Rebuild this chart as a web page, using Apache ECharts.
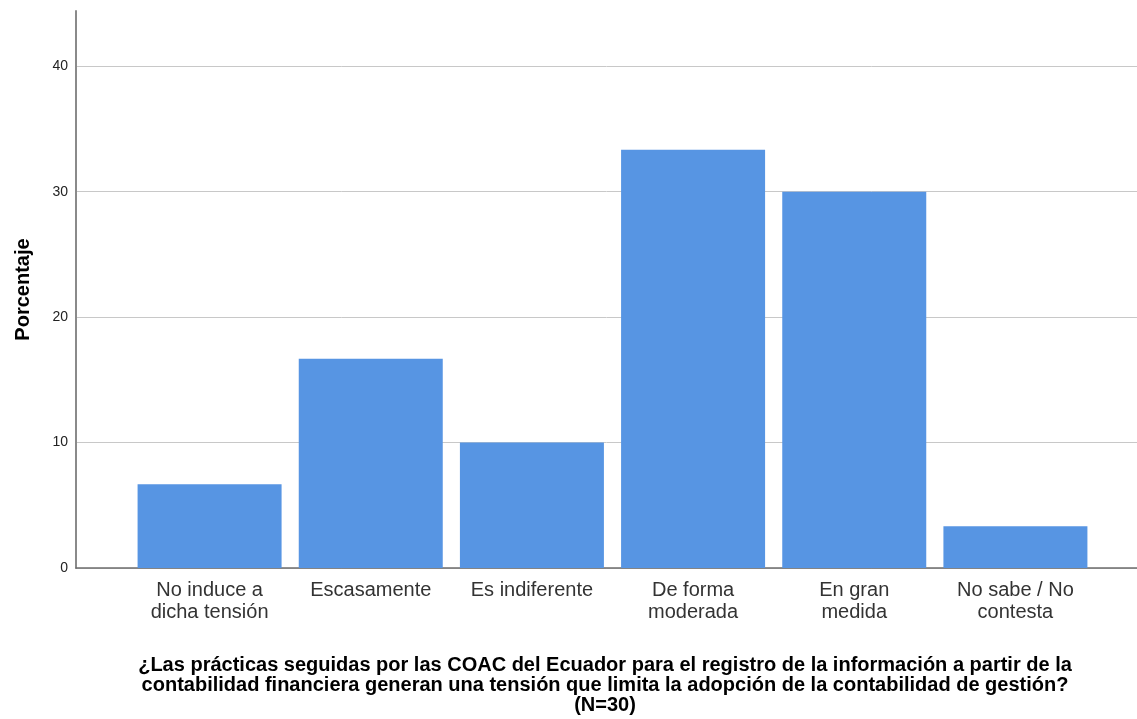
<!DOCTYPE html>
<html lang="es">
<head>
    <meta charset="UTF-8">
    <title>Porcentaje</title>
    <script src="https://cdn.jsdelivr.net/npm/echarts@6/dist/echarts.min.js"></script>
    <style>
        html, body { margin: 0; padding: 0; background: #fff; }
        #chart { width: 1137px; height: 719px; }
    </style>
</head>
<body>
<div id="chart"></div>
<script>
    // datos (N=30)
    var categorias = ['No induce a\ndicha tensión', 'Escasamente', 'Es indiferente', 'De forma\nmoderada', 'En gran\nmedida', 'No sabe / No\ncontesta'];
    var porcentajes = [6.67, 16.67, 10, 33.33, 30, 3.33];
    var yTicks = [0, 10, 20, 30, 40];
    var yMax = 44.4;

    var chart = echarts.init(document.getElementById('chart'));
    var fuente = '"Liberation Sans", Arial, sans-serif';
    var gris = '#c8c8c8';

    chart.setOption({
        animation: false,
        title: {
            text: '¿Las prácticas seguidas por las COAC del Ecuador para el registro de la información a partir de la\ncontabilidad financiera generan una tensión que limita la adopción de la contabilidad de gestión?\n(N=30)',
            left: 600,
            top: 650,
            textAlign: 'center',
            textStyle: { fontFamily: fuente, fontSize: 20, fontWeight: 'bold', color: '#000', lineHeight: 20 }
        },
        grid: [
            // marco completo: eje y, lineas de referencia
            { left: 76, right: 0, top: 11, bottom: 151, outerBoundsMode: 'none', containLabel: false },
            // zona de barras
            { left: 129, right: 41, top: 11, bottom: 151, outerBoundsMode: 'none', containLabel: false }
        ],
        xAxis: [
            {
                gridIndex: 0, type: 'value', min: 0, max: 1,
                axisLine: { show: true, lineStyle: { color: '#6e6e6e', width: 1.5 } },
                axisTick: { show: false }, axisLabel: { show: false }, splitLine: { show: false }
            },
            {
                gridIndex: 1, type: 'category', data: categorias,
                axisLine: { show: false }, axisTick: { show: false },
                axisLabel: { fontFamily: fuente, fontSize: 20, color: '#333', lineHeight: 22, margin: 11, interval: 0 }
            }
        ],
        yAxis: [
            {
                gridIndex: 0, type: 'value', min: 0, max: yMax, interval: 10,
                name: 'Porcentaje', nameLocation: 'middle', nameGap: 43, nameRotate: 90,
                nameTextStyle: { fontFamily: fuente, fontSize: 20, fontWeight: 'bold', color: '#000' },
                axisLine: { show: true, lineStyle: { color: '#8a8a8a', width: 2 } },
                axisTick: { show: false },
                axisLabel: {
                    fontFamily: fuente, fontSize: 14, color: '#222', margin: 8,
                    showMaxLabel: false,
                    formatter: function (v) { return yTicks.indexOf(v) >= 0 ? String(v) : ''; }
                },
                // la ultima linea (en el maximo) no se dibuja
                splitLine: { show: true, lineStyle: { color: [gris, gris, gris, gris, gris, 'rgba(0,0,0,0)'], width: 1 } }
            },
            {
                gridIndex: 1, type: 'value', min: 0, max: yMax, show: false,
                splitLine: { show: false }
            }
        ],
        series: [{
            type: 'bar',
            xAxisIndex: 1,
            yAxisIndex: 1,
            data: porcentajes,
            barWidth: 144,
            itemStyle: { color: '#5795e3' }
        }]
    });
</script>
</body>
</html>
